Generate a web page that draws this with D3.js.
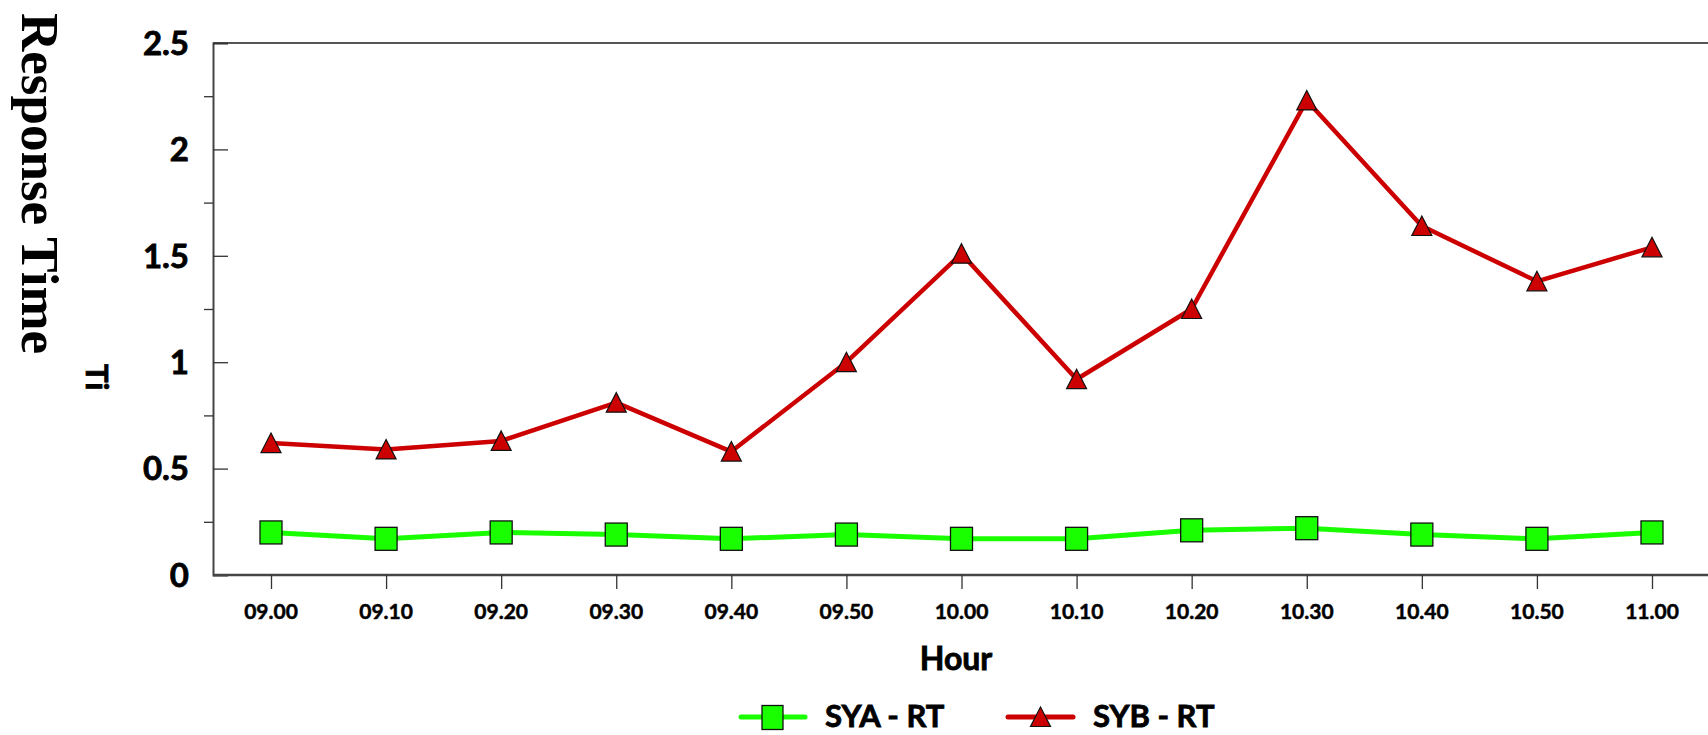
<!DOCTYPE html>
<html>
<head>
<meta charset="utf-8">
<script src="https://cdn.jsdelivr.net/npm/d3@7"></script>
<style>
  html, body { margin: 0; padding: 0; background: #fff; }
  svg { display: block; }
  .tick-lbl { font-family: Lato, "Open Sans", sans-serif; font-weight: 700; fill: #000;
              stroke: #000; stroke-width: 0.8px; }
</style>
</head>
<body>
<svg id="chart" width="1708" height="735"></svg>
<script>
// Sampling times along the x axis
const hours = ["09.00", "09.10", "09.20", "09.30", "09.40", "09.50", "10.00",
               "10.10", "10.20", "10.30", "10.40", "10.50", "11.00"];
// Response time per series
const syaRT = [0.20, 0.17, 0.20, 0.19, 0.17, 0.19, 0.17, 0.17, 0.21, 0.22, 0.19, 0.17, 0.20];
const sybRT = [0.62, 0.59, 0.63, 0.81, 0.58, 1.00, 1.51, 0.92, 1.25, 2.23, 1.64, 1.38, 1.54];
const yTicks = [0, 0.5, 1, 1.5, 2, 2.5];
const yMinorTicks = [0.25, 0.75, 1.25, 1.75, 2.25];
const seriesNames = ["SYA - RT", "SYB - RT"];

const GREEN = "#1aff00", RED = "#cc0000";

const svg = d3.select("#chart");
const plot = { left: 213, right: 1708, top: 43, bottom: 575 };

const x = d3.scalePoint().domain(hours).range([271, 1652]);
const y = d3.scaleLinear().domain([0, 2.5]).range([plot.bottom, plot.top]);

// Frame: top line and left/bottom axes
svg.append("line")
  .attr("x1", plot.left).attr("x2", plot.right)
  .attr("y1", y(2.5)).attr("y2", y(2.5))
  .attr("stroke", "#555").attr("stroke-width", 2);

// Y axis: major ticks point inward, minor ticks outward
const yAxis = svg.append("g").attr("transform", `translate(${plot.left},0)`)
  .call(d3.axisRight(y).tickValues(yTicks).tickSize(15).tickFormat(""));
yAxis.select(".domain").attr("stroke", "#444").attr("stroke-width", 2);
yAxis.selectAll(".tick line").attr("stroke", "#333").attr("stroke-width", 1.3);

const yMinor = svg.append("g").attr("transform", `translate(${plot.left},0)`)
  .call(d3.axisLeft(y).tickValues(yMinorTicks).tickSize(9).tickFormat(""));
yMinor.select(".domain").remove();
yMinor.selectAll(".tick line").attr("stroke", "#333").attr("stroke-width", 1.3);

svg.append("g").selectAll("text").data(yTicks).join("text")
  .attr("class", "tick-lbl")
  .attr("x", 189).attr("y", d => y(d))
  .attr("dy", "0.36em")
  .attr("text-anchor", "end")
  .style("font-size", "33px")
  .text(d => d3.format("")(d));

// X axis
const xAxis = svg.append("g").attr("transform", `translate(0,${plot.bottom})`)
  .call(d3.axisBottom(x).tickSize(14).tickFormat(""));
xAxis.select(".domain")
  .attr("d", `M${plot.left},0H${plot.right}`)
  .attr("stroke", "#444").attr("stroke-width", 2.5);
xAxis.selectAll(".tick line").attr("stroke", "#333").attr("stroke-width", 1.3);

svg.append("g").selectAll("text").data(hours).join("text")
  .attr("class", "tick-lbl")
  .attr("x", d => x(d)).attr("y", 619)
  .attr("text-anchor", "middle")
  .style("font-size", "21px")
  .style("stroke-width", "0.5px")
  .text(d => d);

// Axis titles
svg.append("text")
  .attr("class", "tick-lbl")
  .attr("x", 956).attr("y", 670)
  .attr("text-anchor", "middle")
  .style("font-size", "32px")
  .text("Hour");

svg.append("text")
  .attr("transform", "translate(22,13) rotate(90)")
  .style("font-family", "'Liberation Serif', 'Times New Roman', serif")
  .style("font-weight", "700")
  .style("font-size", "53px")
  .attr("text-anchor", "start")
  .text("Response Time");

svg.append("text")
  .attr("class", "tick-lbl")
  .attr("transform", "translate(86,364) rotate(90)")
  .style("font-size", "31px")
  .attr("text-anchor", "start")
  .text("Ti");

// Series lines
const line = d3.line().x((d, i) => x(hours[i])).y(d => y(d));

svg.append("path").datum(syaRT)
  .attr("d", line).attr("fill", "none")
  .attr("stroke", GREEN).attr("stroke-width", 5).attr("stroke-linejoin", "round");

svg.append("path").datum(sybRT)
  .attr("d", line).attr("fill", "none")
  .attr("stroke", RED).attr("stroke-width", 4.5).attr("stroke-linejoin", "round");

// Markers
const SQ_W = 22, SQ_H = 23;
const triPath = (cx, cy) => `M${cx},${cy - 10}L${cx + 10},${cy + 9.5}L${cx - 10},${cy + 9.5}Z`;

svg.append("g").selectAll("rect").data(syaRT).join("rect")
  .attr("x", (d, i) => x(hours[i]) - SQ_W / 2)
  .attr("y", d => y(d) - SQ_H / 2)
  .attr("width", SQ_W).attr("height", SQ_H)
  .attr("fill", GREEN).attr("stroke", "#111").attr("stroke-width", 1.3);

svg.append("g").selectAll("path").data(sybRT).join("path")
  .attr("d", (d, i) => triPath(x(hours[i]), y(d)))
  .attr("fill", RED).attr("stroke", "#111").attr("stroke-width", 1.2)
  .attr("stroke-linejoin", "miter");

// Legend
const legend = svg.append("g");
const legendItems = [
  { name: seriesNames[0], color: GREEN, x0: 741, x1: 805, textX: 825, marker: "square" },
  { name: seriesNames[1], color: RED, x0: 1008, x1: 1073, textX: 1093, marker: "triangle" }
];
const legendY = 717;
legendItems.forEach(it => {
  legend.append("line")
    .attr("x1", it.x0).attr("x2", it.x1).attr("y1", legendY).attr("y2", legendY)
    .attr("stroke", it.color).attr("stroke-width", 5).attr("stroke-linecap", "round");
  const cx = (it.x0 + it.x1) / 2;
  if (it.marker === "square") {
    legend.append("rect")
      .attr("x", cx - 11).attr("y", legendY - 11.5).attr("width", 21).attr("height", 24)
      .attr("fill", it.color).attr("stroke", "#111").attr("stroke-width", 1.3);
  } else {
    legend.append("path")
      .attr("d", triPath(cx, legendY))
      .attr("fill", it.color).attr("stroke", "#111").attr("stroke-width", 1.2);
  }
  legend.append("text")
    .attr("class", "tick-lbl")
    .attr("x", it.textX).attr("y", 727)
    .style("font-size", "31px")
    .text(it.name);
});
</script>
</body>
</html>
